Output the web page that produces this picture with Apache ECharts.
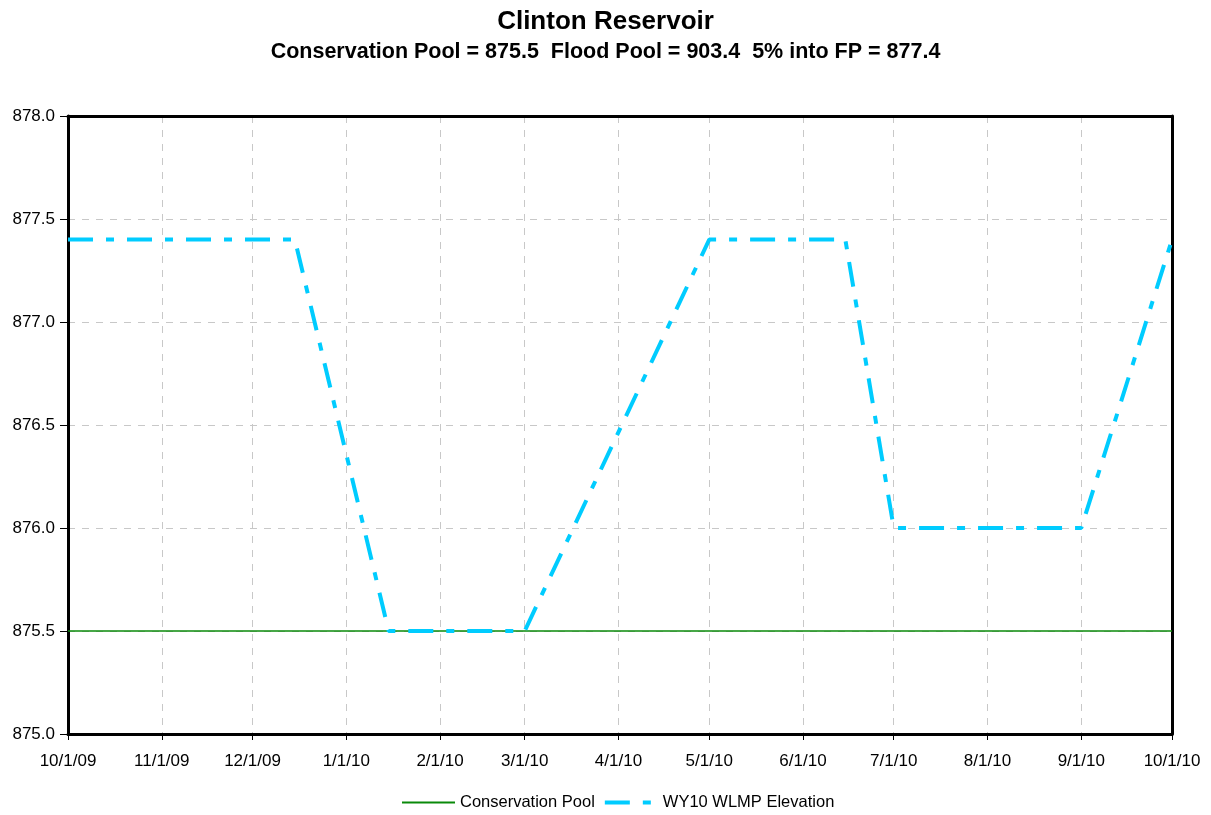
<!DOCTYPE html>
<html>
<head>
<meta charset="utf-8">
<script src="https://cdn.jsdelivr.net/npm/echarts@6/dist/echarts.min.js"></script>
<style>html,body{margin:0;padding:0;background:#fff}#c{width:1211px;height:815px}</style>
</head>
<body>
<div id="c"></div>
<script>
var titleText = 'Clinton Reservoir';
var subtitleText = 'Conservation Pool = 875.5  Flood Pool = 903.4  5% into FP = 877.4';
var wlmpDates = ['2009-10-01','2009-12-15','2010-01-15','2010-03-01','2010-05-01','2010-06-15','2010-07-01','2010-09-01','2010-10-01'];
var wlmpValues = [877.4,877.4,875.5,875.5,877.4,877.4,876.0,876.0,877.4];
var consDates = ['2009-10-01','2010-10-01'];
var consValues = [875.5,875.5];
var seriesNames = ['Conservation Pool','WY10 WLMP Elevation'];
var xMin = '2009-10-01', xMax = '2010-10-01';
var yMin = 875.0, yMax = 878.0, yStep = 0.5;

function pair(d, v){ return d.map(function(x,i){ return [x, v[i]]; }); }
var font = 'Liberation Sans, Arial, sans-serif';
var green = '#0a8a0a', cyan = '#00ccff';
var chart = echarts.init(document.getElementById('c'));
var frameAxis = {show:true,onZero:false,lineStyle:{color:'#000',width:3}};
chart.setOption({
  animation:false,
  backgroundColor:'#fff',
  title:[
    {text:titleText,left:'center',top:4,textStyle:{fontFamily:font,fontSize:26,fontWeight:'bold',color:'#000'}},
    {text:subtitleText,left:'center',top:36,textStyle:{fontFamily:font,fontSize:21.5,fontWeight:'bold',color:'#000'}}
  ],
  grid:{left:68,right:39,top:116,bottom:81},
  legend:{top:789,left:397,itemWidth:53,itemHeight:20,itemGap:10,
    textStyle:{fontFamily:font,fontSize:16.5,color:'#000'},
    data:[
      {name:seriesNames[0],icon:'path://M0,0H53V2H0Z'},
      {name:seriesNames[1],icon:'path://M0,0H25V4H0Z M38,0H46V4H38Z M53,0L53,4L53,0Z'}
    ]},
  xAxis:[{type:'time',min:xMin,max:xMax,
    minInterval:28*86400000,maxInterval:31*86400000,
    axisLine:frameAxis,
    axisTick:{show:true,length:6,lineStyle:{color:'#000',width:1}},
    axisLabel:{fontFamily:font,fontSize:17,color:'#000',margin:19,showMinLabel:true,showMaxLabel:true,hideOverlap:false,
      formatter:function(v){var d=new Date(v);return (d.getMonth()+1)+'/'+d.getDate()+'/'+String(d.getFullYear()).slice(2);}},
    splitLine:{show:true,lineStyle:{color:'#c8c8c8',width:1,type:[7,7]}}
  },{type:'time',position:'top',min:xMin,max:xMax,axisLine:frameAxis,axisTick:{show:false},axisLabel:{show:false},splitLine:{show:false}}],
  yAxis:[{type:'value',min:yMin,max:yMax,interval:yStep,
    axisLine:frameAxis,
    axisTick:{show:true,length:8,lineStyle:{color:'#000',width:1}},
    axisLabel:{fontFamily:font,fontSize:17,color:'#000',margin:13,formatter:function(v){return v.toFixed(1);}},
    splitLine:{show:true,lineStyle:{color:'#c8c8c8',width:1,type:[7,7]}}
  },{type:'value',position:'right',min:yMin,max:yMax,interval:yStep,axisLine:frameAxis,axisTick:{show:false},axisLabel:{show:false},splitLine:{show:false}}],
  series:[
    {name:seriesNames[0],type:'line',data:pair(consDates,consValues),symbol:'none',
      lineStyle:{color:green,width:1.5},itemStyle:{color:green}},
    {name:seriesNames[1],type:'line',data:pair(wlmpDates,wlmpValues),symbol:'none',
      lineStyle:{color:cyan,width:4,type:[25,13,8,13],cap:'butt'},itemStyle:{color:cyan}}
  ]
});
</script>
</body>
</html>
